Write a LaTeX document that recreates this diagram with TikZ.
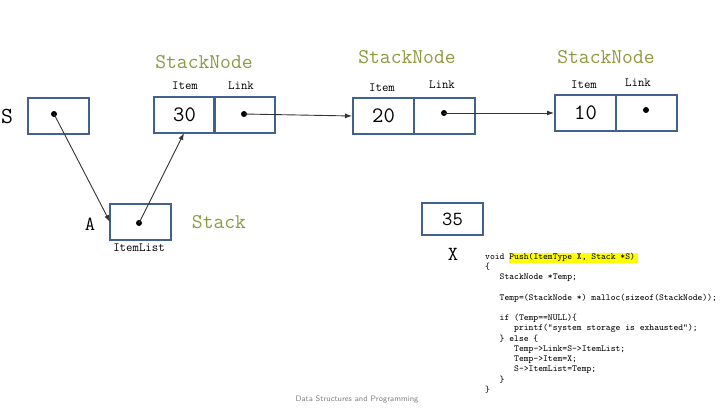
\documentclass[tikz,border=0pt]{standalone}
\usepackage{fontspec}
\usetikzlibrary{arrows.meta}
\definecolor{boxblue}{HTML}{41628F}
\definecolor{olive}{HTML}{8A9A3E}
\definecolor{arrowgray}{HTML}{333333}
\definecolor{hl}{HTML}{FFFF00}
\begin{document}
\begin{tikzpicture}[x=1pt,y=-1pt,
  cell/.style={draw=boxblue,line width=2pt,minimum width=61pt,minimum height=36pt,inner sep=0pt,anchor=north west,font=\ttfamily\fontsize{22}{22}\selectfont},
  dotmark/.style={circle,fill=black,inner sep=0pt,minimum size=6pt},
  title/.style={font=\ttfamily\fontsize{21}{21}\selectfont,text=olive},
  small/.style={font=\ttfamily\fontsize{12.5}{12.5}\selectfont},
  big/.style={font=\ttfamily\fontsize{20}{20}\selectfont},
  ptr/.style={draw=arrowgray,line width=0.9pt,-{Latex[length=7pt,width=5pt]},shorten <=0pt},
  code/.style={font=\ttfamily\fontsize{9.2}{10.25}\selectfont,anchor=north west,inner sep=0pt,align=left}]
\useasboundingbox (0,0) rectangle (722,407);
% S
\node[font=\ttfamily\fontsize{23}{23}\selectfont] (Slbl) at (7,116) {S};
\node[cell] (Sbox) at (27,97) {};
\node[dotmark] (Sdot) at (54,114) {};
% Node 1
\node[title] (t1) at (204,62) {StackNode};
\node[small] (i1) at (185,86) {Item};
\node[small] (l1) at (241,86) {Link};
\node[cell] (item1) at (153,96) {30};
\node[cell] (link1) at (213,96) {};
\node[dotmark] (d1) at (244,114) {};
% Node 2
\node[title] (t2) at (407,57) {StackNode};
\node[small] (i2) at (382,88) {Item};
\node[small] (l2) at (442,85) {Link};
\node[cell] (item2) at (352,97) {20};
\node[cell] (link2) at (413,97) {};
\node[dotmark] (d2) at (444,113) {};
% Node 3
\node[title] (t3) at (606,57) {StackNode};
\node[small] (i3) at (584,85) {Item};
\node[small] (l3) at (638,83) {Link};
\node[cell] (item3) at (554,94) {10};
\node[cell] (link3) at (615,94) {};
\node[dotmark] (d3) at (646,110) {};
% A / ItemList
\node[big] (Albl) at (90,224) {A};
\node[cell] (Abox) at (109,203) {};
\node[dotmark] (Adot) at (139,223) {};
\node[small] (il) at (139,248) {ItemList};
\node[title] (stk) at (219,222) {Stack};
% X
\node[cell,minimum height=32pt,font=\ttfamily\fontsize{20}{20}\selectfont] (Xbox) at (421,202) {35};
\node[big] (Xlbl) at (453,254) {X};
% arrows
\coordinate (aA) at (110,222);
\coordinate (a1) at (184,133);
\draw[ptr] (Sdot.center) -- (aA);
\draw[ptr] (Adot.center) -- (a1);
\draw[ptr] (d1.center) -- (item2.west);
\draw[ptr] (d2.center) -- (item3.west);
% code
\fill[hl] (509,253) rectangle (638,262.5);
\node[code] (codeblk) at (485,252.5) {%
void Push(ItemType X, Stack *S)\\
\{\\
\ \ \ StackNode *Temp;\\
\mbox{}\\
\ \ \ Temp=(StackNode *) malloc(sizeof(StackNode));\\
\mbox{}\\
\ \ \ if (Temp==NULL)\{\\
\ \ \ \ \ \ printf("system storage is exhausted");\\
\ \ \ \} else \{\\
\ \ \ \ \ \ Temp->Link=S->ItemList;\\
\ \ \ \ \ \ Temp->Item=X;\\
\ \ \ \ \ \ S->ItemList=Temp;\\
\ \ \ \}\\
\}};
% footer
\node[font=\sffamily\fontsize{8}{8}\selectfont,text=gray,anchor=south] (foot) at (357,406.5) {Data Structures and Programming};
\end{tikzpicture}
\end{document}
